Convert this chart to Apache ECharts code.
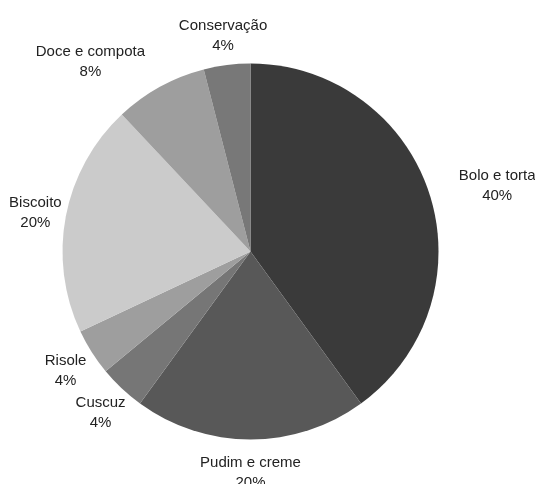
<!DOCTYPE html>
<html style="height: 100%">

<head>
	<meta charset="utf-8">
</head>

<body style="height: 100%; margin: 0; background: #fff">
	<div id="container" style="width: 535px; height: 484px"></div>
	<script type="text/javascript" src="https://cdn.jsdelivr.net/npm/echarts@6/dist/echarts.min.js"></script>
	<script type="text/javascript">
		// dados (25 respostas)
		let categories = ['Bolo e torta', 'Pudim e creme', 'Cuscuz', 'Risole', 'Biscoito', 'Doce e compota', 'Conservação'];
		let values = [10, 5, 1, 1, 5, 2, 1];
		let colors = ['#3a3a3a', '#585858', '#767676', '#9e9e9e', '#cbcbcb', '#9e9e9e', '#787878'];

		const CX = 250.5, CY = 251.5, R = 188;

		let dom = document.getElementById("container");
		let myChart = echarts.init(dom);

		let pieData = [];
		for (let i = 0; i < categories.length; i++) {
			pieData.push({ name: categories[i], value: values[i], itemStyle: { color: colors[i] } });
		}

		let option = {
			animation: false,
			series: [
				{
					type: 'pie',
					center: [CX, CY],
					radius: R,
					startAngle: 90,
					clockwise: true,
					avoidLabelOverlap: false,
					itemStyle: { borderWidth: 0 },
					label: {
						show: true,
						position: 'outside',
						distanceToLabelLine: 0,
						fontFamily: 'Liberation Sans, Arial, sans-serif',
						fontSize: 15,
						lineHeight: 20,
						color: '#222',
						formatter: function (p) {
							return p.name + '\n' + Math.round(p.percent) + '%';
						}
					},
					labelLine: { show: false, length: 31, length2: 0 },
					// centra o texto no ponto radial; se invadir a pizza, encosta a caixa no ponto
					labelLayout: function (p) {
						let r = p.labelRect;
						let right = r.x + r.width / 2 < CX;
						let ax = right ? r.x + r.width : r.x;
						let ay = r.y + r.height / 2;
						let hw = r.width / 2, hh = r.height / 2;
						let qx = Math.min(Math.max(CX, ax - hw), ax + hw);
						let qy = Math.min(Math.max(CY, ay - hh), ay + hh);
						if (Math.hypot(qx - CX, qy - CY) < R - 4) {
							ax = right ? ax - hw : ax + hw;
						}
						return { x: ax, y: ay + 2, align: 'center', verticalAlign: 'middle' };
					},
					emphasis: { disabled: true },
					data: pieData
				}
			]
		};

		myChart.setOption(option, true);
	</script>
</body>

</html>
